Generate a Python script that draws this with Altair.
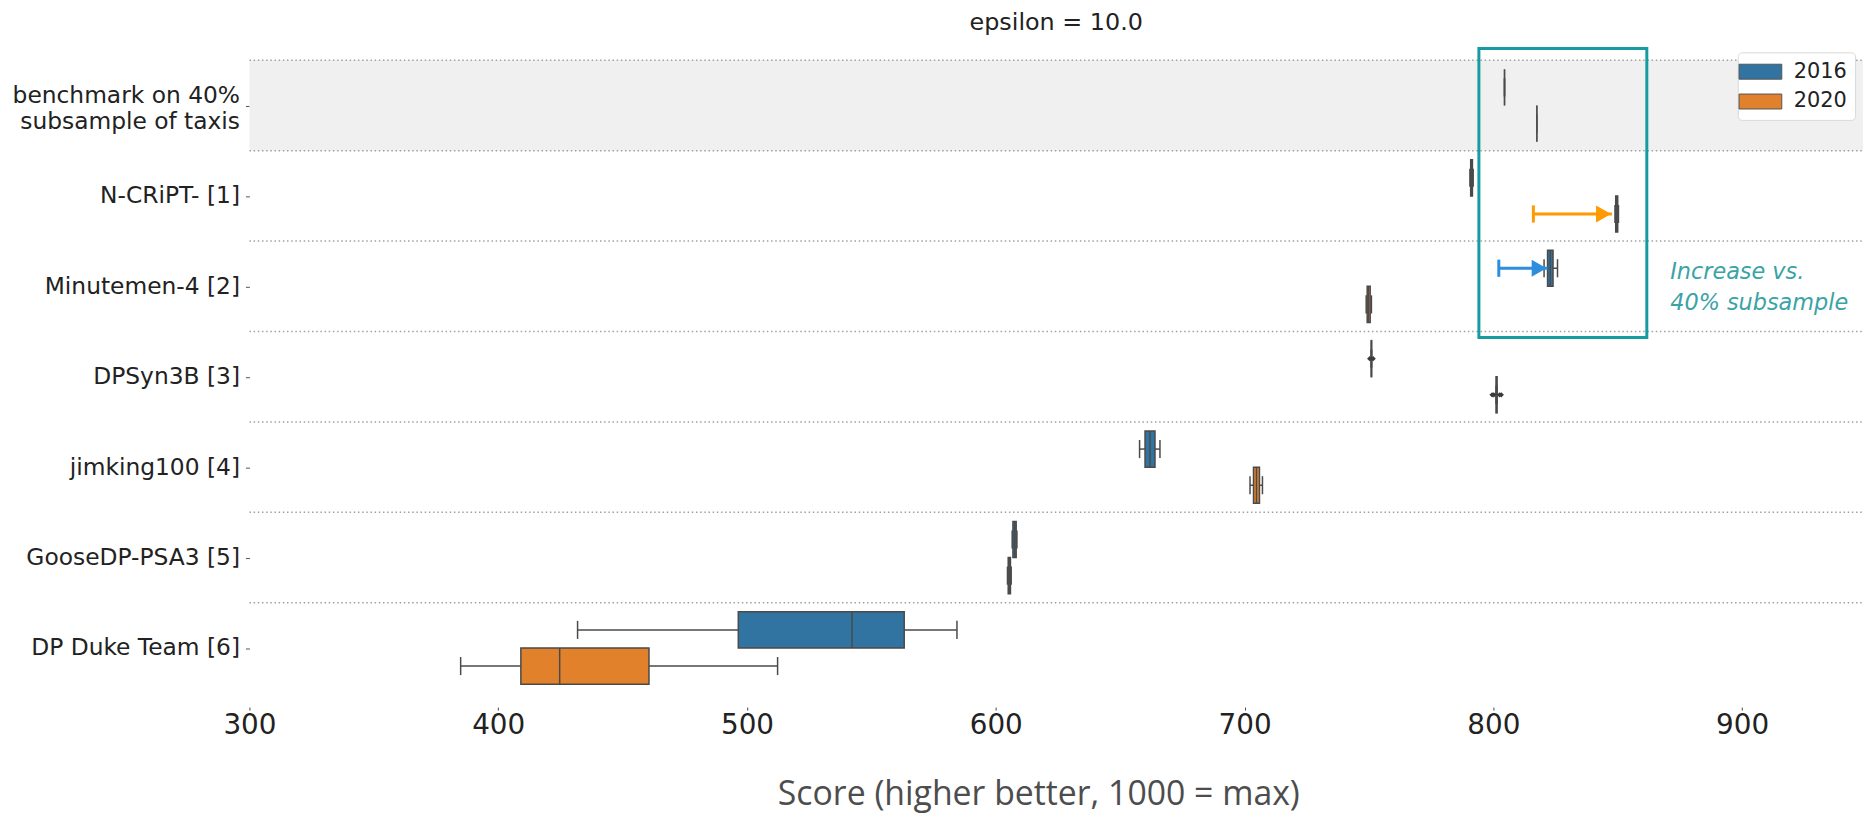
import json
import altair as alt
import pandas as pd

# ---------------- data ----------------
rows = [
    "benchmark on 40%\nsubsample of taxis",
    "N-CRiPT- [1]",
    "Minutemen-4 [2]",
    "DPSyn3B [3]",
    "jimking100 [4]",
    "GooseDP-PSA3 [5]",
    "DP Duke Team [6]",
]
years = ["2016", "2020"]
year_colors = ["#3274a1", "#e1812c"]

lo_2016 = [804.5, 790.6, 820.4, 750.9, 657.8, 606.6, 431.9]
q1_2016 = [804.5, 790.9, 821.8, 750.9, 660.0, 606.9, 496.5]
med_2016 = [804.5, 791.2, 822.9, 751.0, 662.0, 607.6, 542.2]
q3_2016 = [804.5, 791.6, 824.0, 751.1, 664.0, 608.2, 563.2]
hi_2016 = [804.5, 791.9, 825.8, 751.1, 666.0, 608.5, 584.4]

lo_2020 = [817.5, 848.9, 748.9, 801.1, 702.2, 604.7, 384.9]
q1_2020 = [817.5, 849.2, 749.3, 801.1, 703.6, 605.0, 409.1]
med_2020 = [817.5, 849.6, 749.8, 801.3, 704.8, 605.4, 424.7]
q3_2020 = [817.5, 850.0, 750.5, 801.5, 706.0, 605.9, 460.6]
hi_2020 = [817.5, 850.3, 751.0, 801.5, 707.2, 606.2, 512.3]

flier_row = [3, 3, 3, 3, 3, 3]
flier_year = ["2016", "2016", "2020", "2020", "2020", "2020"]
flier_value = [750.3, 751.7, 799.5, 800.2, 802.5, 803.2]

arrow_row = [1, 2]
arrow_year = ["2020", "2016"]
arrow_start = [816.1, 802.2]
arrow_end = [847.7, 821.8]
arrow_color = ["#ff9a00", "#2e8ede"]

highlight_x = [794.2, 861.7]
highlight_rows = [-0.13, 3.066]

note_lines = ["Increase vs.", "40% subsample"]
note_x = 871.1
note_rows = [2.34, 2.68]

x_ticks = [300, 400, 500, 600, 700, 800, 900]
x_domain = [300, 948.6]

# ---------------- layout ----------------
W = 1624
H = 637
OFF = {"2016": 0.3, "2020": 0.7}
HALF = 0.2
CAP = 0.1

recs = []
series = {
    "2016": (lo_2016, q1_2016, med_2016, q3_2016, hi_2016),
    "2020": (lo_2020, q1_2020, med_2020, q3_2020, hi_2020),
}
for yr in years:
    lo, q1, md, q3, hi = series[yr]
    for i in range(len(rows)):
        yc = i + OFF[yr]
        recs.append(dict(row=i, year=yr, lo=lo[i], q1=q1[i], med=md[i], q3=q3[i], hi=hi[i],
                         yc=yc, ytop=yc - HALF, ybot=yc + HALF, ctop=yc - CAP, cbot=yc + CAP))
box_df = pd.DataFrame(recs)

fl_df = pd.DataFrame(dict(row=flier_row, year=flier_year, value=flier_value))
fl_df["yc"] = [r + OFF[y] for r, y in zip(fl_df["row"], fl_df["year"])]

ar_df = pd.DataFrame(dict(row=arrow_row, year=arrow_year, start=arrow_start, end=arrow_end, color=arrow_color))
ar_df["yc"] = [r + OFF[y] for r, y in zip(ar_df["row"], ar_df["year"])]
ar_df["ctop"] = ar_df["yc"] - 0.095
ar_df["cbot"] = ar_df["yc"] + 0.095

xs = alt.Scale(domain=x_domain, nice=False, zero=False)
ys = alt.Scale(domain=[0, len(rows)], reverse=True, nice=False, zero=False)

labels_js = json.dumps([r.split("\n") if "\n" in r else r for r in rows])

YA = alt.Axis(
    values=[i + 0.5 for i in range(len(rows))],
    labelExpr=f"{labels_js}[floor(datum.value)]",
    title=None, domain=False, grid=False, ticks=True, tickSize=4, tickWidth=1,
    tickColor="#555555", labelPadding=6, labelFontSize=23.5, labelLineHeight=26,
    labelFont="DejaVu Sans", labelColor="#222222", labelBaseline="middle", labelLimit=500,
    labelOffset={"condition": {"test": "datum.value < 1", "value": -10}, "value": 0},
)
XA = alt.Axis(
    values=x_ticks, format="d", labelFontSize=28, labelFont="DejaVu Sans", labelColor="#222222",
    labelFlush=False, domain=False, grid=False, tickSize=3, tickColor="#444444", offset=14,
    labelPadding=2, title="Score (higher better, 1000 = max)", titleFont="Open Sans",
    titleFontSize=34, titleFontWeight="normal", titleColor="#4d4d4d", titlePadding=38,
    titleX=794,
)


def X(field):
    return alt.X(field, scale=xs, axis=XA)


def Y(field):
    return alt.Y(field, scale=ys, axis=YA)


GRAY = "#4a4a4a"

band = alt.Chart(pd.DataFrame({"y0": [0], "y1": [1]})).mark_rect(color="#f0f0f0").encode(
    x=alt.value(0), x2=alt.value(W), y=Y("y0:Q"), y2="y1:Q")

seps = alt.Chart(pd.DataFrame({"s": list(range(len(rows)))})).mark_rule(
    color="#a0a0a0", strokeDash=[1.5, 2.7], strokeWidth=1.5).encode(
    x=alt.value(0), x2=alt.value(W), y=Y("s:Q"))

base = alt.Chart(box_df)
wl = base.mark_rule(color=GRAY, strokeWidth=1.5).encode(x=X("lo:Q"), x2="q1:Q", y=Y("yc:Q"))
wh = base.mark_rule(color=GRAY, strokeWidth=1.5).encode(x=X("q3:Q"), x2="hi:Q", y=Y("yc:Q"))
cl = base.mark_rule(color=GRAY, strokeWidth=1.5).encode(x=X("lo:Q"), y=Y("ctop:Q"), y2="cbot:Q")
ch = base.mark_rule(color=GRAY, strokeWidth=1.5).encode(x=X("hi:Q"), y=Y("ctop:Q"), y2="cbot:Q")
boxes = base.mark_rect(strokeWidth=1.5).encode(
    x=X("q1:Q"), x2="q3:Q", y=Y("ytop:Q"), y2="ybot:Q",
    stroke=alt.condition("datum.row == 0", alt.value("#8a8a8a"), alt.value(GRAY)),
    color=alt.Color("year:N", scale=alt.Scale(domain=years, range=year_colors),
                    legend=alt.Legend(
                        orient="none", legendX=1498, legendY=-8, title=None,
                        symbolType="M-2,-0.7H2V0.7H-2Z", symbolSize=462, symbolOffset=3.25,
                        symbolStrokeColor="#555555", symbolStrokeWidth=1,
                        labelFontSize=21, labelFont="DejaVu Sans", labelColor="#222222",
                        labelOffset=22, rowPadding=8, padding=8,
                        fillColor="white", strokeColor="#d9d9d9", cornerRadius=4)))
meds = base.mark_rule(color=GRAY, strokeWidth=1.5).encode(x=X("med:Q"), y=Y("ytop:Q"), y2="ybot:Q")

fliers = alt.Chart(fl_df).mark_point(shape="diamond", filled=True, color="#3a3a3a", size=28, opacity=1).encode(
    x=X("value:Q"), y=Y("yc:Q"))

ab = alt.Chart(ar_df)
cscale = alt.Scale(domain=arrow_color, range=arrow_color)
a_line = ab.mark_rule(strokeWidth=3).encode(
    x=X("start:Q"), x2="end:Q", y=Y("yc:Q"),
    color=alt.Color("color:N", scale=cscale, legend=None))
a_cap = ab.mark_rule(strokeWidth=3).encode(
    x=X("start:Q"), y=Y("ctop:Q"), y2="cbot:Q",
    color=alt.Color("color:N", scale=cscale, legend=None))
a_head = ab.mark_point(shape="triangle-right", filled=True, size=300, opacity=1, xOffset=-8.5).encode(
    x=X("end:Q"), y=Y("yc:Q"),
    color=alt.Color("color:N", scale=cscale, legend=None))

hl = alt.Chart(pd.DataFrame({"x0": [highlight_x[0]], "x1": [highlight_x[1]],
                             "y0": [highlight_rows[0]], "y1": [highlight_rows[1]]})).mark_rect(
    fillOpacity=0, stroke="#189ba0", strokeWidth=3).encode(
    x=X("x0:Q"), x2="x1:Q", y=Y("y0:Q"), y2="y1:Q")

note = alt.Chart(pd.DataFrame({"t": note_lines, "x": [note_x] * len(note_lines), "y": note_rows})).mark_text(
    align="left", baseline="middle", font="DejaVu Sans", fontStyle="italic", fontSize=22.5,
    color="#3aa3a6").encode(x=X("x:Q"), y=Y("y:Q"), text="t:N")

title = alt.Chart(pd.DataFrame({"t": ["epsilon = 10.0"]})).mark_text(
    align="center", baseline="middle", font="DejaVu Sans", fontSize=24, color="#222222").encode(
    x=alt.value(W / 2), y=alt.value(-37.5), text="t:N")

chart = alt.layer(
    band, seps, wl, wh, cl, ch, boxes, meds, fliers, a_line, a_cap, a_head, hl, note, title
).resolve_scale(color="independent").properties(
    width=W, height=H, padding={"left": 3, "top": 0, "right": 0, "bottom": 4}
).configure_view(stroke=None)

chart.save("out.html", embed_options={"renderer": "svg", "actions": False})
